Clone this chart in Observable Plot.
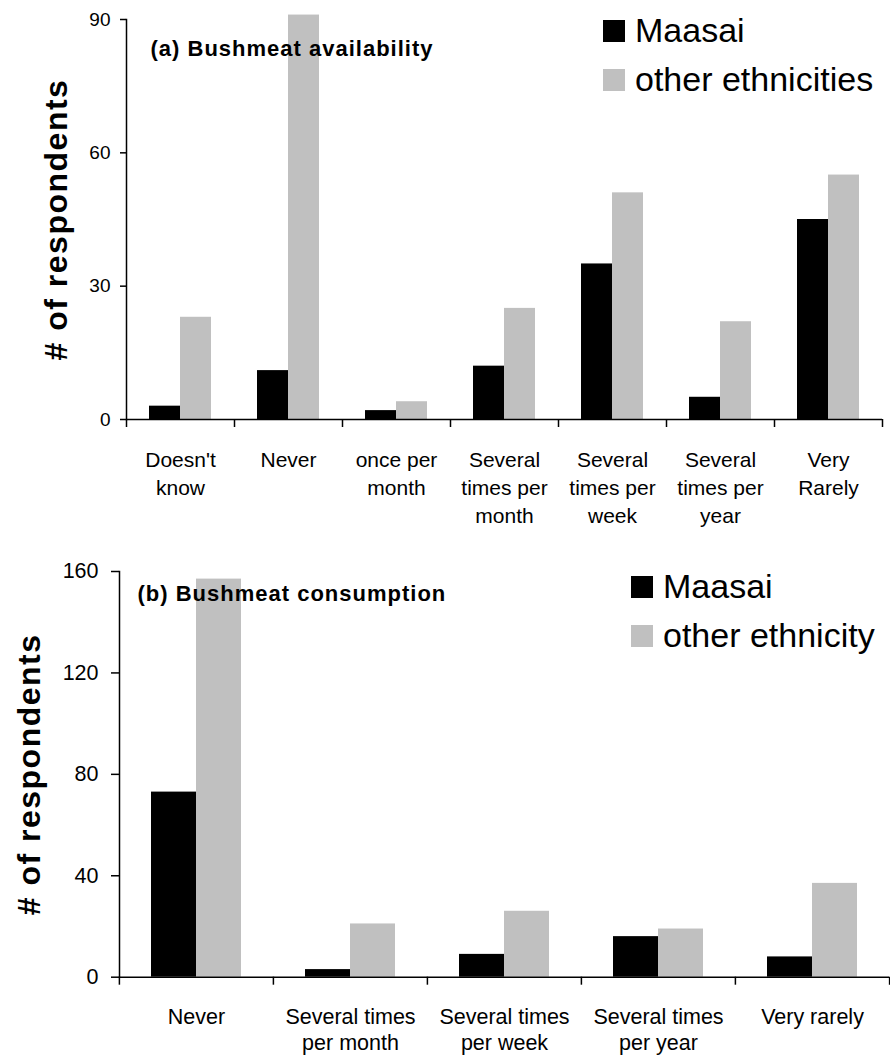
<!DOCTYPE html>
<html><head><meta charset="utf-8">
<script src="https://cdn.jsdelivr.net/npm/d3@7"></script>
<script src="https://cdn.jsdelivr.net/npm/@observablehq/plot@0.6"></script>
<style>
body{margin:0;background:#fff;}
#wrap{position:relative;width:890px;height:1057px;font-family:"Liberation Sans",Arial,sans-serif;}
.legend{position:absolute;}
.row{display:flex;align-items:flex-start;height:49px;font-size:34px;line-height:34px;color:#000;white-space:nowrap;}
.sw{width:22px;height:22px;margin-top:7px;margin-right:10px;flex:none;}
</style></head><body><div id="wrap"></div>
<script>
// ---- Data: (a) Bushmeat availability ----
const availCategories = ["Doesn't know", "Never", "once per month", "Several times per month", "Several times per week", "Several times per year", "Very Rarely"];
const availLabels = ["Doesn't\nknow", "Never", "once per\nmonth", "Several\ntimes per\nmonth", "Several\ntimes per\nweek", "Several\ntimes per\nyear", "Very\nRarely"];
const availSeries = ["Maasai", "other ethnicities"];
const availMaasai = [3, 11, 2, 12, 35, 5, 45];
const availOther = [23, 91, 4, 25, 51, 22, 55];
const availYTicks = [0, 30, 60, 90];

// ---- Data: (b) Bushmeat consumption ----
const consCategories = ["Never", "Several times per month", "Several times per week", "Several times per year", "Very rarely"];
const consLabels = ["Never", "Several times\nper month", "Several times\nper week", "Several times\nper year", "Very rarely"];
const consSeries = ["Maasai", "other ethnicity"];
const consMaasai = [73, 3, 9, 16, 8];
const consOther = [157, 21, 26, 19, 37];
const consYTicks = [0, 40, 80, 120, 160];

const yLabel = "# of respondents";
const colors = ["#000000", "#c0c0c0"];
const FONT = "'Liberation Sans', Arial, sans-serif";

function drawChart(o) {
  const data = o.categories.flatMap((c, i) => [
    {category: c, series: o.series[0], value: o.maasai[i]},
    {category: c, series: o.series[1], value: o.other[i]}
  ]);
  const first = o.categories[0], last = o.categories[o.categories.length - 1];
  const labelOf = new Map(o.categories.map((c, i) => [c, o.labels[i]]));
  const half = (890 - o.ml - o.mr) / o.categories.length / 2;
  const svg = Plot.plot({
    width: 890, height: o.height,
    marginTop: o.mt, marginBottom: o.mb, marginLeft: o.ml, marginRight: o.mr,
    style: {fontFamily: FONT, color: "#000", background: "#fff", overflow: "visible"},
    fx: {domain: o.categories, padding: 0, label: null},
    x: {domain: o.series, paddingInner: 0, paddingOuter: o.pad, axis: null},
    y: {domain: [0, d3.max(o.yTicks)], label: null},
    color: {domain: o.series, range: colors},
    marks: [
      Plot.barY(data, {fx: "category", x: "series", y: "value", fill: "series"}),
      Plot.ruleY([0], {stroke: "#000", strokeWidth: 1.5}),
      Plot.frame({anchor: "left", facetAnchor: "left", stroke: "#000", strokeWidth: 1.5}),
      Plot.axisY({anchor: "left", ticks: o.yTicks, tickSize: o.yTickSize, tickPadding: o.yTickPad, fontSize: o.yFont, label: null, strokeWidth: 1.5}),
      Plot.axisFx({anchor: "bottom", tickSize: 0, tickPadding: o.xPad, fontSize: o.xFont, lineHeight: o.lh, tickFormat: c => labelOf.get(c), label: null}),
      Plot.axisFx({anchor: "bottom", tickSize: 8, tickPadding: 0, tickFormat: () => "", dx: -half, label: null, strokeWidth: 1.5}),
      Plot.axisFx({anchor: "bottom", ticks: [last], tickSize: 8, tickPadding: 0, tickFormat: () => "", dx: half, label: null, strokeWidth: 1.5}),
      Plot.text([o.title], {fx: () => first, frameAnchor: "top-left", dx: o.tdx, dy: o.tdy, lineAnchor: "bottom", textAnchor: "start", fontSize: 22, fontWeight: "bold", fill: "#000"}),
      Plot.text([yLabel], {fx: () => first, frameAnchor: "left", rotate: -90, dx: o.ydx, textAnchor: "middle", lineAnchor: "middle", fontSize: 32, fontWeight: "bold", fill: "#000"})
    ]
  });
  d3.select(svg).selectAll("text").filter(function() { return this.textContent === o.title; }).attr("letter-spacing", 1);
  d3.select(svg).selectAll("text").filter(function() { return this.textContent === yLabel; }).attr("letter-spacing", 1.5);
  return svg;
}

function legend(series, left, top) {
  const div = document.createElement("div");
  div.className = "legend";
  div.style.left = left + "px";
  div.style.top = top + "px";
  series.forEach((s, i) => {
    const row = document.createElement("div");
    row.className = "row";
    const sw = document.createElement("span");
    sw.className = "sw";
    sw.style.background = colors[i];
    const t = document.createElement("span");
    t.textContent = s;
    row.appendChild(sw); row.appendChild(t);
    div.appendChild(row);
  });
  return div;
}

const wrap = document.getElementById("wrap");
wrap.appendChild(drawChart({
  categories: availCategories, labels: availLabels, series: availSeries,
  maasai: availMaasai, other: availOther, yTicks: availYTicks,
  height: 530, mt: 19, mb: 111, ml: 126, mr: 8, pad: 0.714,
  yTickSize: 6, yTickPad: 10, yFont: 19, xFont: 21, xPad: 28, lh: 1.33,
  title: "(a) Bushmeat availability", tdx: 24, tdy: 36, ydx: -69.5
}));
wrap.appendChild(drawChart({
  categories: consCategories, labels: consLabels, series: consSeries,
  maasai: consMaasai, other: consOther, yTicks: consYTicks,
  height: 527, mt: 41, mb: 80.3, ml: 118, mr: 1, pad: 0.694,
  yTickSize: 8, yTickPad: 13, yFont: 21.5, xFont: 21.5, xPad: 28, lh: 1.22,
  title: "(b) Bushmeat consumption", tdx: 18, tdy: 29, ydx: -89.5
}));
wrap.appendChild(legend(availSeries, 603, 13));
wrap.appendChild(legend(consSeries, 631, 569));
</script>
</body></html>
